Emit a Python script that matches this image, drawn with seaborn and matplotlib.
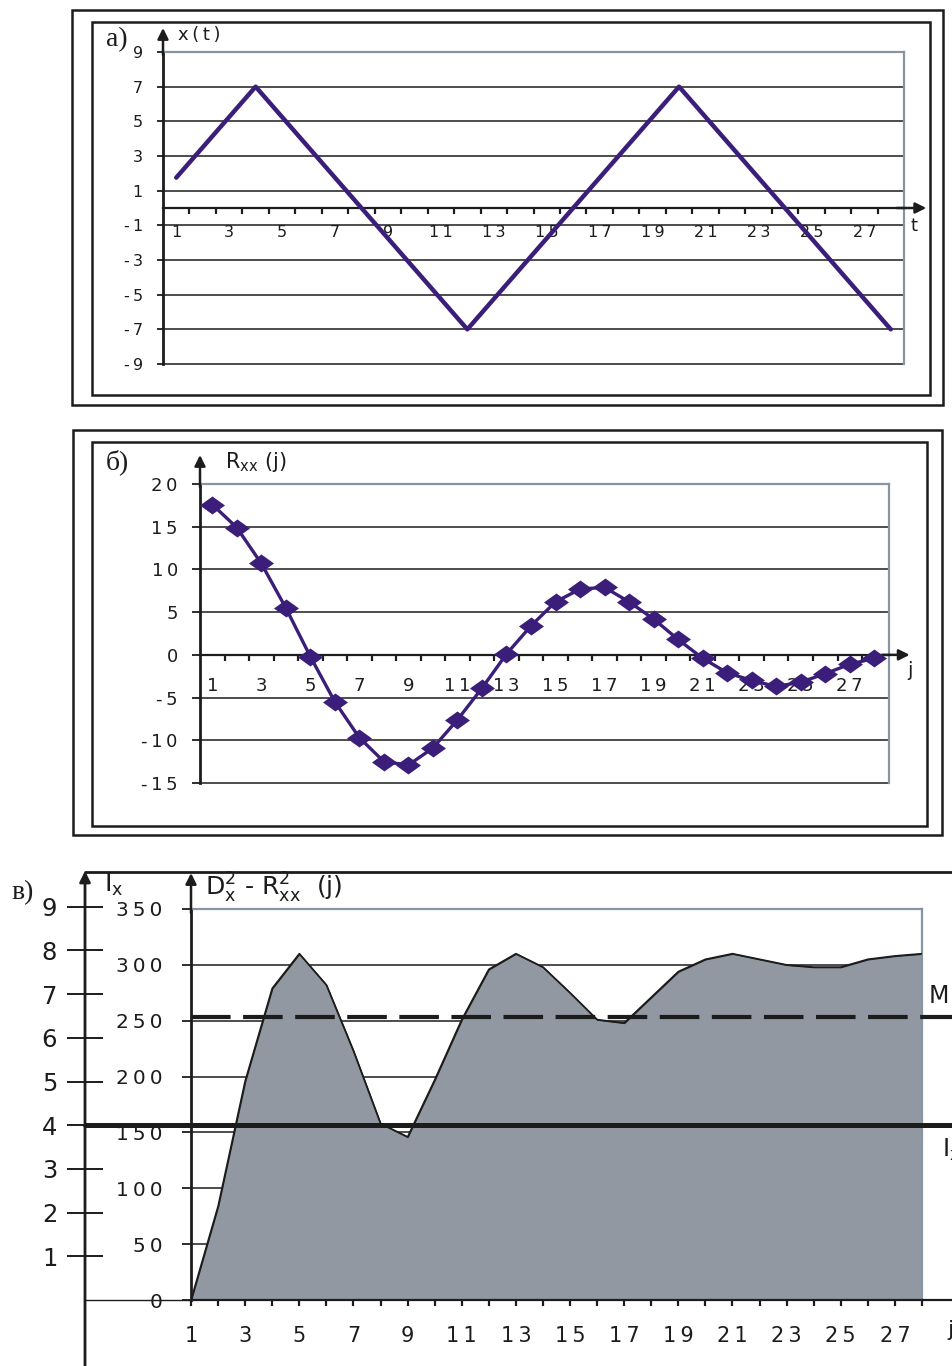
import matplotlib
matplotlib.use("Agg")
import matplotlib.pyplot as plt
import matplotlib.transforms as mtransforms
from matplotlib.patches import Rectangle, FancyArrowPatch
from matplotlib.lines import Line2D
from matplotlib.path import Path
import seaborn as sns

# ---- data -------------------------------------------------------------
# a) triangular signal x(t)
t_values = list(range(1, 29))
x_values = [1.75, 3.5, 5.25, 7.0, 5.25, 3.5, 1.75, 0.0, -1.75, -3.5, -5.25, -7.0,
            -5.25, -3.5, -1.75, 0.0, 1.75, 3.5, 5.25, 7.0, 5.25, 3.5, 1.75, 0.0,
            -1.75, -3.5, -5.25, -7.0]

# b) autocorrelation R_xx(j)
lags = list(range(1, 29))
r_values = [17.6, 14.9, 10.7, 5.5, -0.2, -5.5, -9.7, -12.5, -12.9, -10.9, -7.6, -3.9,
            0.1, 3.4, 6.2, 7.7, 7.9, 6.2, 4.2, 1.8, -0.4, -2.1, -3.0, -3.7, -3.2, -2.2,
            -1.1, -0.4]

# c) D_x^2 - R_xx^2(j) and the two levels
dr_values = [0, 84, 196, 279, 310, 282, 223, 158, 146, 197, 251, 296, 310, 298,
             275, 251, 248, 271, 294, 305, 310, 305, 300, 298, 298, 305, 308, 310]
ix_level = 4
mean_level = 253

a_yticks = [-9, -7, -5, -3, -1, 1, 3, 5, 7, 9]
b_yticks = [-15, -10, -5, 0, 5, 10, 15, 20]
c_yticks = [0, 50, 100, 150, 200, 250, 300, 350]
c_left_ticks = [1, 2, 3, 4, 5, 6, 7, 8, 9]
odd_labels = list(range(1, 28, 2))

# ---- style --------------------------------------------------------------
W, H = 953, 1366
sns.set_theme(style="ticks")
plt.rcParams["font.family"] = ["DejaVu Sans"]
plt.rcParams["mathtext.fontset"] = "dejavusans"

INK = "#1c1c1c"
PURPLE = "#3b1e79"
EDGE = "#8794a1"
FILL = "#9198a1"
SERIF = ["Liberation Serif", "DejaVu Serif"]
THIN = "\u2009"

fig = plt.figure(figsize=(W / 100, H / 100), dpi=100)
fig.patch.set_facecolor("white")


def px_box(l, t, r, b):
    return [l / W, 1 - b / H, (r - l) / W, (b - t) / H]


def fxy(x, y):
    return (x / W, 1 - y / H)


def spaced(v, gap=THIN):
    return gap.join(str(v))


def fig_text(x, y, s, **kw):
    kw.setdefault("color", INK)
    fig.text(x / W, 1 - y / H, s, **kw)


def frame(l, t, r, b, lw=1.8):
    fig.add_artist(Rectangle(fxy(l, b), (r - l) / W, (b - t) / H,
                             transform=fig.transFigure, fill=False, lw=lw, ec=INK))


def arrow(ax, start, end, coords):
    ax.annotate("", xy=end, xytext=start, xycoords=coords, textcoords=coords,
                annotation_clip=False,
                arrowprops=dict(arrowstyle="-|>", color=INK, lw=1.8,
                                mutation_scale=16, shrinkA=0, shrinkB=0))


def style_signal_axes(ax, xlim, ylim, yticks, y_fs, y_pad, y_len, x_fs, x_pad):
    ax.set_xlim(*xlim)
    ax.set_ylim(*ylim)
    for v in yticks[:-1]:
        ax.axhline(v, color=INK, lw=1.1, zorder=1, clip_on=False)
    for side in ("top", "right"):
        ax.spines[side].set_visible(True)
        ax.spines[side].set_color(EDGE)
        ax.spines[side].set_linewidth(1.6)
    ax.spines["left"].set_color(INK)
    ax.spines["left"].set_linewidth(2.0)
    ax.spines["bottom"].set_position(("data", 0))
    ax.spines["bottom"].set_color(INK)
    ax.spines["bottom"].set_linewidth(1.6)
    ax.set_yticks(yticks)
    ax.set_yticklabels([spaced(v) for v in yticks], fontsize=y_fs, color=INK)
    ax.tick_params(axis="y", left=True, direction="out", length=y_len, width=1.3,
                   pad=y_pad, color=INK)
    ax.set_xticks([k + 0.5 for k in range(1, 28)])
    ax.set_xticklabels([])
    ax.tick_params(axis="x", which="major", bottom=True, direction="out",
                   length=4.5, width=1.6, color=INK)
    ax.set_xticks(odd_labels, minor=True)
    ax.set_xticklabels([spaced(v) for v in odd_labels], minor=True,
                       fontsize=x_fs, color=INK)
    ax.tick_params(axis="x", which="minor", bottom=True, length=0, pad=x_pad)
    ax.set_xlabel("")
    ax.set_ylabel("")


# ---- a) signal -------------------------------------------------------------
frame(72, 10, 943, 405)
frame(92, 22, 930, 395)
axa = fig.add_axes(px_box(163, 52, 904, 364))
sns.lineplot(x=t_values, y=x_values, ax=axa, color=PURPLE, lw=3.2, zorder=5)
style_signal_axes(axa, (0.5, 28.5), (-9, 9), a_yticks, 11.5, 10, 4.5, 11.5, 12.5)
arrow(axa, (0, 0.99), (0, 1.077), "axes fraction")
arrow(axa, (0.99, 0), (1.03, 0), ("axes fraction", "data"))
fig_text(106, 40, "а)", fontsize=20, family=SERIF, va="center", ha="left")
fig_text(178, 35, THIN.join("x(t)"), fontsize=13, va="center", ha="left")
fig_text(911, 226, "t", fontsize=13, va="center", ha="left")

# ---- b) autocorrelation -----------------------------------------------------
frame(73, 430, 942, 835)
frame(92, 442, 927, 826)
axb = fig.add_axes(px_box(200, 484, 889, 783))
diamond = Path([(-1.0, 0.0), (0.0, 0.72), (1.0, 0.0), (0.0, -0.72), (-1.0, 0.0)],
               [Path.MOVETO, Path.LINETO, Path.LINETO, Path.LINETO, Path.CLOSEPOLY])
sns.lineplot(x=lags, y=r_values, ax=axb, color=PURPLE, lw=2.4, zorder=5,
             marker=diamond, markersize=18, markeredgewidth=0,
             markerfacecolor=PURPLE)
style_signal_axes(axb, (0.5, 28.6), (-15, 20), b_yticks, 13, 10, 6, 13, 16)
arrow(axb, (0, 0.99), (0, 1.097), "axes fraction")
arrow(axb, (0.99, 0), (1.03, 0), ("axes fraction", "data"))
fig_text(106, 462, "б)", fontsize=20, family=SERIF, va="center", ha="left")
fig_text(225, 462, r"R$_{\mathregular{xx}}$ (j)", fontsize=15, va="center", ha="left")
fig_text(907, 670, "j", fontsize=14, va="center", ha="left")

# ---- c) D^2 - R^2 with the I_x scale ---------------------------------------
axc = fig.add_axes(px_box(191, 909, 922, 1300))
for v in c_yticks[1:-1]:
    axc.axhline(v, color=INK, lw=1.1, zorder=1)
axc.fill_between(lags, dr_values, 0, color=FILL, ec=INK, lw=1.0, zorder=2)
sns.lineplot(x=lags, y=dr_values, ax=axc, color=INK, lw=1.2, zorder=3)
axc.set_xlim(1, 28)
axc.set_ylim(0, 350)
for side in ("top", "right"):
    axc.spines[side].set_color(EDGE)
    axc.spines[side].set_linewidth(1.6)
axc.spines["left"].set_color(INK)
axc.spines["left"].set_linewidth(2.0)
axc.spines["bottom"].set_color(INK)
axc.spines["bottom"].set_linewidth(1.6)
axc.set_yticks(c_yticks)
axc.set_yticklabels([spaced(v) for v in c_yticks], fontsize=14.5, color=INK)
axc.tick_params(axis="y", left=True, direction="out", length=6.5, width=1.3,
                pad=14, color=INK)
axc.set_xticks(lags)
axc.set_xticklabels([spaced(v) if v % 2 else "" for v in lags],
                    fontsize=15, color=INK)
axc.tick_params(axis="x", bottom=True, direction="out", length=4.5, width=1.6,
                pad=14, color=INK)
axc.set_xlabel("")
axc.set_ylabel("")
arrow(axc, (0, 0.99), (0, 1.092), "axes fraction")

# left I_x axis
axl = fig.add_axes(px_box(85, 872, 86, 1300))
axl.patch.set_alpha(0)
for side in axl.spines.values():
    side.set_visible(False)
axl.set_ylim(0, (1300 - 872) / 43.7)
axl.set_xticks([])
axl.set_yticks(c_left_ticks)
axl.set_yticklabels([str(v) for v in c_left_ticks], fontsize=17.5, color=INK)
axl.tick_params(axis="y", left=True, direction="inout", length=26, width=1.4,
                pad=7, color=INK)

fig.add_artist(FancyArrowPatch(fxy(85, 1370), fxy(85, 871), transform=fig.transFigure,
                               arrowstyle="-|>", mutation_scale=16, lw=2.0,
                               color=INK, shrinkA=0, shrinkB=0))
fig.add_artist(Line2D([85 / W, 1.0], [1 - 872 / H] * 2, transform=fig.transFigure,
                      color=INK, lw=2.0))

blend_l = mtransforms.blended_transform_factory(fig.transFigure, axl.transData)
blend_c = mtransforms.blended_transform_factory(fig.transFigure, axc.transData)
fig.add_artist(Line2D([85 / W, 191 / W], [0, 0], transform=blend_l, color=INK, lw=1.0))
fig.add_artist(Line2D([922 / W, 1.0], [0, 0], transform=blend_c, color=INK, lw=1.6))
fig.add_artist(Line2D([85 / W, 1.0], [ix_level, ix_level], transform=blend_l,
                      color=INK, lw=3.6, zorder=5))
fig.add_artist(Line2D([191 / W, 1.0], [mean_level, mean_level], transform=blend_c,
                      color=INK, lw=3.0, dashes=(9.5, 3.0), zorder=5))

fig_text(11, 893, "в)", fontsize=20, family=SERIF, va="center", ha="left")
fig_text(104, 885, r"$\mathregular{I_x}$", fontsize=18, va="center", ha="left")
fig_text(205, 888, r"$\mathregular{D_x^2}$ - $\mathregular{R_{xx}^2}$  (j)",
         fontsize=18, va="center", ha="left")
fig_text(929, 996, "M", fontsize=17, va="center", ha="left")
fig_text(942, 1150, r"$\mathregular{I_x}$", fontsize=17, va="center", ha="left")
fig_text(947, 1330, "j", fontsize=16, va="center", ha="left")

fig.savefig("out.png", dpi=100, facecolor="white")
